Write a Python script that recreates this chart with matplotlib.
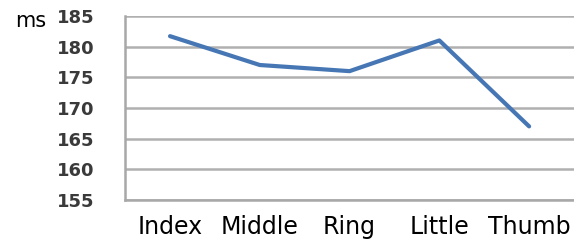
import matplotlib.pyplot as plt

fingers = ['Index', 'Middle', 'Ring', 'Little', 'Thumb']
times_ms = [181.7, 177.0, 176.0, 181.0, 167.0]
yticks = [155, 160, 165, 170, 175, 180, 185]

fig = plt.figure(figsize=(5.74, 2.41), dpi=100)
ax = fig.add_axes([0.218, 0.17, 0.782, 0.764])

ax.plot(range(len(fingers)), times_ms, color='#4677b4', linewidth=3, solid_capstyle='round')

ax.set_xlim(-0.5, len(fingers) - 0.5)
ax.set_ylim(155, 185)
ax.set_yticks(yticks)
ax.set_xticks(range(len(fingers)))
ax.set_xticklabels(fingers, fontsize=17, color='black')
ax.tick_params(axis='y', labelsize=13, labelcolor='#3a3a3a', length=0, pad=22)
ax.tick_params(axis='x', length=0, pad=11)
for lbl in ax.get_yticklabels():
    lbl.set_fontweight('semibold')

ax.grid(axis='y', color='#b0b0b0', linewidth=1.8)
ax.set_axisbelow(True)
for side in ['top', 'right']:
    ax.spines[side].set_visible(False)
for side in ['left', 'bottom']:
    ax.spines[side].set_color('#a8a8a8')
    ax.spines[side].set_linewidth(1.8)

fig.text(0.026, 0.89, 'ms', fontsize=15, color='black')

fig.savefig('out.png', dpi=100)
